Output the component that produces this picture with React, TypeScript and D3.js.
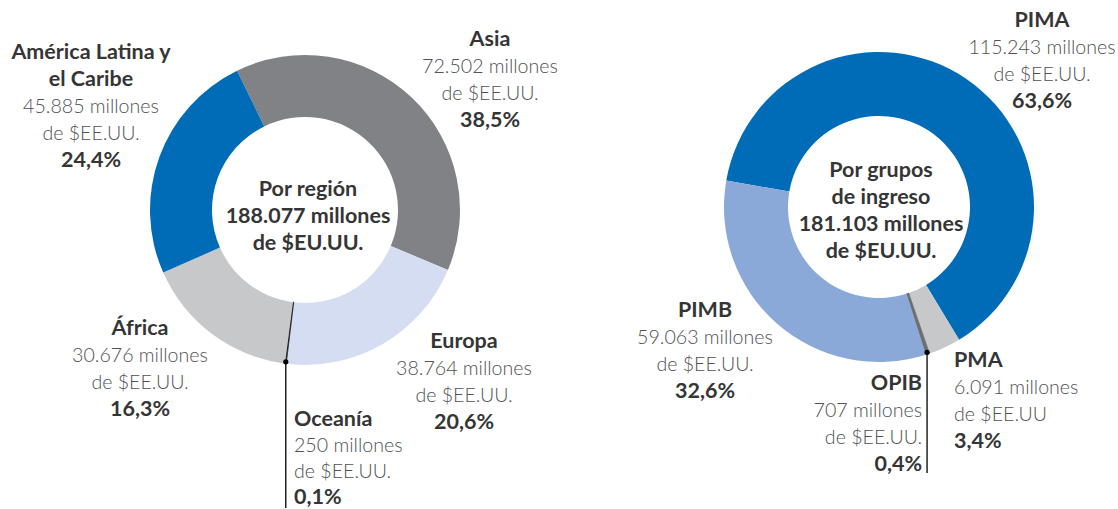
import React from "react";
import * as d3 from "d3";

const regionNames = ["Asia", "Europa", "Oceanía", "África", "América Latina y el Caribe"];
const regionValues = [72502, 38764, 250, 30676, 45885];
const regionShares = ["38,5%", "20,6%", "0,1%", "16,3%", "24,4%"];
const regionUnits = ["de $EE.UU.", "de $EE.UU.", "de $EE.UU.", "de $EE.UU.", "de $EE.UU."];
const regionColors = ["#808285", "#d5ddf2", "#231f20", "#c7c8ca", "#006cb7"];
const regionTotal = "188.077 millones";

const incomeNames = ["PIMA", "PMA", "OPIB", "PIMB"];
const incomeValues = [115243, 6091, 707, 59063];
const incomeShares = ["63,6%", "3,4%", "0,4%", "32,6%"];
const incomeUnits = ["de $EE.UU.", "de $EE.UU", "de $EE.UU.", "de $EE.UU."];
const incomeColors = ["#006cb7", "#c7c8ca", "#6d6e71", "#8aa9d9"];
const incomeTotal = "181.103 millones";

const locale = d3.formatLocale({ decimal: ",", thousands: ".", grouping: [3], currency: ["$", ""] });
const fmt = locale.format(",d");

const FONT = "Lato, 'Open Sans', sans-serif";
const DARK = "#353535";
const LIGHT = "#505154";
const LH = 27;
const BOLD_SIZE = 21.5;
const LIGHT_SIZE = 19.6;

type Lbl = { x: number; y: number; anchor: string; lh?: number };

const regionLabelPos: Lbl[] = [
  { x: 490, y: 46, anchor: "middle" },
  { x: 464, y: 348, anchor: "middle" },
  { x: 294, y: 426, anchor: "start", lh: 26 },
  { x: 140, y: 335, anchor: "middle" },
  { x: 91, y: 59, anchor: "middle" },
];
const incomeLabelPos: Lbl[] = [
  { x: 1042, y: 27, anchor: "middle" },
  { x: 954, y: 367, anchor: "start" },
  { x: 922, y: 390, anchor: "end" },
  { x: 705, y: 317, anchor: "middle" },
];

function splitName(n: string): string[] {
  if (n === "América Latina y el Caribe") return ["América Latina y", "el Caribe"];
  return [n];
}

function Donut(props: {
  cx: number; cy: number; R: number; r: number; startDeg: number;
  names: string[]; values: number[]; shares: string[]; units: string[]; colors: string[];
  labels: Lbl[]; center: string[]; centerX: number; centerY: number;
  leader: number; leaderEnd: number;
}) {
  const { cx, cy, R, r, startDeg, names, values, shares, units, colors, labels, center, centerX, centerY, leader, leaderEnd } = props;
  const a0 = (startDeg * Math.PI) / 180;
  const pie = d3.pie<number>().sort(null).value((d) => d).startAngle(a0).endAngle(a0 + 2 * Math.PI);
  const arcs = pie(values);
  const arc = d3.arc<d3.PieArcDatum<number>>().innerRadius(r).outerRadius(R);
  const la = arcs[leader];
  const mid = (la.startAngle + la.endAngle) / 2;
  const dx = cx + Math.sin(mid) * (R - 2);
  const dy = cy - Math.cos(mid) * (R - 2);
  return (
    <g>
      <g transform={`translate(${cx},${cy})`}>
        {arcs.map((a, i) => (
          <path key={i} d={arc(a) || ""} fill={colors[i]}
            stroke={i === leader ? colors[i] : "none"} strokeWidth={i === leader ? 0.8 : 0} />
        ))}
      </g>
      <line x1={dx} y1={dy} x2={dx} y2={leaderEnd} stroke="#000" strokeWidth={1.3} />
      <circle cx={dx} cy={dy} r={2.6} fill="#000" />
      {center.map((t, i) => (
        <text key={i} x={centerX} y={centerY + i * LH} textAnchor="middle" fontFamily={FONT}
          fontWeight={700} fontSize={BOLD_SIZE} fill={DARK}>{t}</text>
      ))}
      {names.map((n, i) => {
        const p = labels[i];
        const lh = p.lh ?? LH;
        const nl = splitName(n);
        const lines: { t: string; bold: boolean }[] = [
          ...nl.map((t) => ({ t, bold: true })),
          { t: `${fmt(values[i])} millones`, bold: false },
          { t: units[i], bold: false },
          { t: shares[i], bold: true },
        ];
        return (
          <g key={i}>
            {lines.map((l, j) => (
              <text key={j} x={p.x} y={p.y + j * lh} textAnchor={p.anchor as any} fontFamily={FONT}
                fontWeight={l.bold ? 700 : 300} fontSize={l.bold ? BOLD_SIZE : LIGHT_SIZE}
                fill={l.bold ? DARK : LIGHT}>{l.t}</text>
            ))}
          </g>
        );
      })}
    </g>
  );
}

export default function App() {
  return (
    <svg width={1118} height={509} style={{ position: "absolute", left: 0, top: 0, background: "#fff" }}>
      <Donut cx={305} cy={210} R={155} r={93} startDeg={-26}
        names={regionNames} values={regionValues} shares={regionShares} units={regionUnits}
        colors={regionColors} labels={regionLabelPos}
        center={["Por región", regionTotal, "de $EU.UU."]} centerX={308} centerY={196}
        leader={2} leaderEnd={508} />
      <Donut cx={879} cy={207} R={155} r={91} startDeg={-80.2}
        names={incomeNames} values={incomeValues} shares={incomeShares} units={incomeUnits}
        colors={incomeColors} labels={incomeLabelPos}
        center={["Por grupos", "de ingreso", incomeTotal, "de $EU.UU."]} centerX={881} centerY={177}
        leader={2} leaderEnd={473} />
    </svg>
  );
}
